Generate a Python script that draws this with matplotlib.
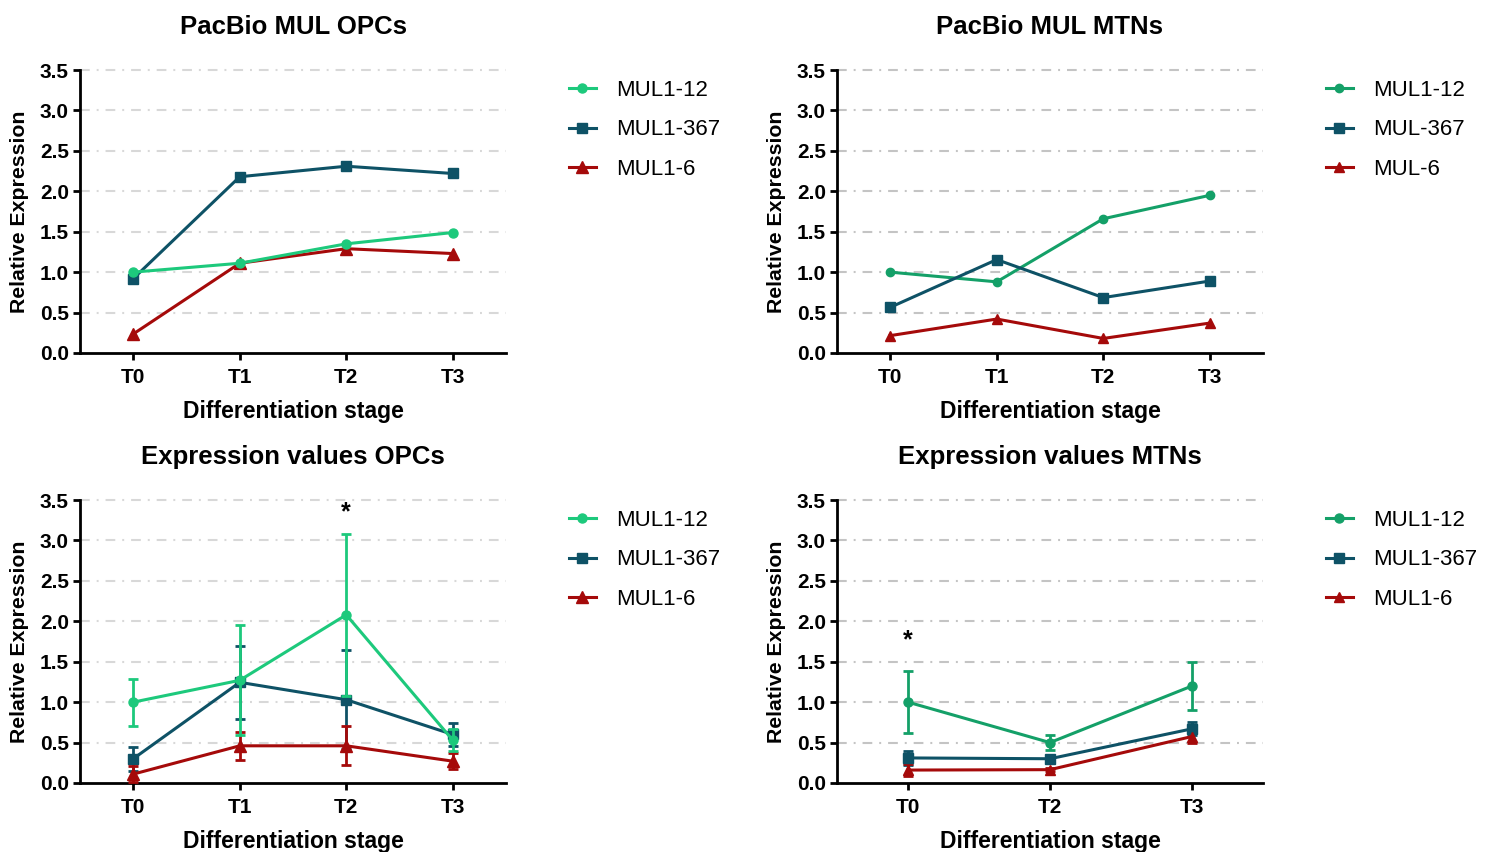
import matplotlib
matplotlib.use("Agg")
import matplotlib.pyplot as plt
import numpy as np

plt.rcParams['font.family'] = ['Liberation Sans', 'DejaVu Sans']
plt.rcParams['lines.scale_dashes'] = False

# ---------------- data ----------------
stages4 = ["T0", "T1", "T2", "T3"]
stages3 = ["T0", "T2", "T3"]

# PacBio MUL OPCs
opc_pb_12 = [1.00, 1.11, 1.35, 1.49]
opc_pb_367 = [0.92, 2.18, 2.31, 2.22]
opc_pb_6 = [0.235, 1.11, 1.29, 1.23]

# PacBio MUL MTNs
mtn_pb_12 = [1.00, 0.88, 1.66, 1.95]
mtn_pb_367 = [0.565, 1.155, 0.685, 0.89]
mtn_pb_6 = [0.215, 0.42, 0.18, 0.37]

# Expression values OPCs (mean, error)
opc_ex_12 = [1.00, 1.27, 2.08, 0.53]
opc_ex_12_err = [0.29, 0.68, 1.00, 0.14]
opc_ex_367 = [0.30, 1.245, 1.03, 0.60]
opc_ex_367_err = [0.15, 0.45, 0.61, 0.14]
opc_ex_6 = [0.11, 0.46, 0.46, 0.27]
opc_ex_6_err = [0.10, 0.17, 0.24, 0.10]

# Expression values MTNs (mean, error)
mtn_ex_12 = [1.00, 0.50, 1.20]
mtn_ex_12_err = [0.38, 0.09, 0.30]
mtn_ex_367 = [0.31, 0.30, 0.67]
mtn_ex_367_err = [0.09, 0.02, 0.08]
mtn_ex_6 = [0.16, 0.165, 0.575]
mtn_ex_6_err = [0.07, 0.02, 0.08]

labels_opc = ["MUL1-12", "MUL1-367", "MUL1-6"]
labels_mtn_pb = ["MUL1-12", "MUL-367", "MUL-6"]
labels_mtn_ex = ["MUL1-12", "MUL1-367", "MUL1-6"]

GREEN_L = "#1DC97C"
GREEN_R = "#14A068"
TEAL = "#0E5266"
RED = "#A50A0A"

fig = plt.figure(figsize=(14.92, 8.52), dpi=100)

W = 426 / 1492
H = 283 / 852
pos = {
    "tl": [80 / 1492, 1 - 353 / 852, W, H],
    "tr": [837 / 1492, 1 - 353 / 852, W, H],
    "bl": [80 / 1492, 1 - 783 / 852, W, H],
    "br": [837 / 1492, 1 - 783 / 852, W, H],
}


def style(ax, cats, title, gridcolor):
    ax.set_xlim(-0.5, len(cats) - 0.5)
    ax.set_ylim(0, 3.5)
    ax.set_yticks(np.arange(0, 3.51, 0.5))
    ax.set_yticklabels([f"{v:.1f}" for v in np.arange(0, 3.51, 0.5)])
    ax.set_xticks(range(len(cats)))
    ax.set_xticklabels(cats)
    for s in ["top", "right"]:
        ax.spines[s].set_visible(False)
    for s in ["left", "bottom"]:
        ax.spines[s].set_linewidth(2.0)
        ax.spines[s].set_color("black")
    ax.tick_params(axis="both", width=2.0, length=5, labelsize=15, color="black")
    ax.tick_params(axis="x", pad=6)
    ax.tick_params(axis="y", pad=3)
    for lab in ax.get_xticklabels() + ax.get_yticklabels():
        lab.set_fontweight("bold")
    ax.set_axisbelow(True)
    for yv in np.arange(0.5, 3.51, 0.5):
        ax.axhline(yv, color=gridcolor, lw=1.5, ls=(0, (7, 5, 1.4, 5)), zorder=0, clip_on=False)
    ax.set_title(title, fontsize=18.5, fontweight="bold", pad=26)
    ax.set_xlabel("Differentiation stage", fontsize=16.5, fontweight="bold", labelpad=9)
    ax.set_ylabel("Relative Expression", fontsize=15.3, fontweight="bold", labelpad=8)


def legend(ax, handles, labels):
    ax.legend(handles, labels, loc="upper left", bbox_to_anchor=(1.1, 1.035), frameon=False,
              fontsize=16, handlelength=1.25, labelspacing=0.82, handletextpad=0.9)


def lines(ax, x, series, colors, markers, msizes, errs=None, zs=None):
    hs = []
    for i, (y, c, m, ms) in enumerate(zip(series, colors, markers, msizes)):
        z = 3 + (zs[i] if zs is not None else 0)
        if errs is not None:
            h = ax.errorbar(x, y, yerr=errs[i], color=c, marker=m, ms=ms, lw=2.2,
                            elinewidth=2.0, capsize=3.5, capthick=2.0, zorder=z,
                            clip_on=False)
            hs.append(h.lines[0])
        else:
            h, = ax.plot(x, y, color=c, marker=m, ms=ms, lw=2.2, zorder=z, clip_on=False)
            hs.append(h)
    return hs


# Top-left
ax = fig.add_axes(pos["tl"])
style(ax, stages4, "PacBio MUL OPCs", "#D8D8D8")
x4 = np.arange(len(stages4))
hs = lines(ax, x4, [opc_pb_367, opc_pb_6, opc_pb_12], [TEAL, RED, GREEN_L], ["s", "^", "o"], [7.2, 8, 6.5],
           zs=[0, 0.1, 0.2])
legend(ax, [hs[2], hs[0], hs[1]], labels_opc)

# Top-right
ax = fig.add_axes(pos["tr"])
style(ax, stages4, "PacBio MUL MTNs", "#C4C4C4")
hs = lines(ax, x4, [mtn_pb_12, mtn_pb_367, mtn_pb_6], [GREEN_R, TEAL, RED], ["o", "s", "^"], [6, 7, 7])
legend(ax, hs, labels_mtn_pb)

# Bottom-left
ax = fig.add_axes(pos["bl"])
style(ax, stages4, "Expression values OPCs", "#D8D8D8")
hs = lines(ax, x4, [opc_ex_367, opc_ex_6, opc_ex_12], [TEAL, RED, GREEN_L], ["s", "^", "o"], [7.2, 8, 6.5],
           errs=[opc_ex_367_err, opc_ex_6_err, opc_ex_12_err], zs=[0, 0.1, 0.2])
legend(ax, [hs[2], hs[0], hs[1]], labels_opc)
ax.text(2, 3.2, "*", ha="center", va="bottom", fontsize=18, fontweight="bold")

# Bottom-right
ax = fig.add_axes(pos["br"])
style(ax, stages3, "Expression values MTNs", "#C4C4C4")
x3 = np.arange(len(stages3))
hs = lines(ax, x3, [mtn_ex_12, mtn_ex_367, mtn_ex_6], [GREEN_R, TEAL, RED], ["o", "s", "^"], [6.5, 7, 7],
           errs=[mtn_ex_12_err, mtn_ex_367_err, mtn_ex_6_err])
legend(ax, hs, labels_mtn_ex)
ax.text(0, 1.62, "*", ha="center", va="bottom", fontsize=18, fontweight="bold")

fig.savefig("out.png", dpi=100)
